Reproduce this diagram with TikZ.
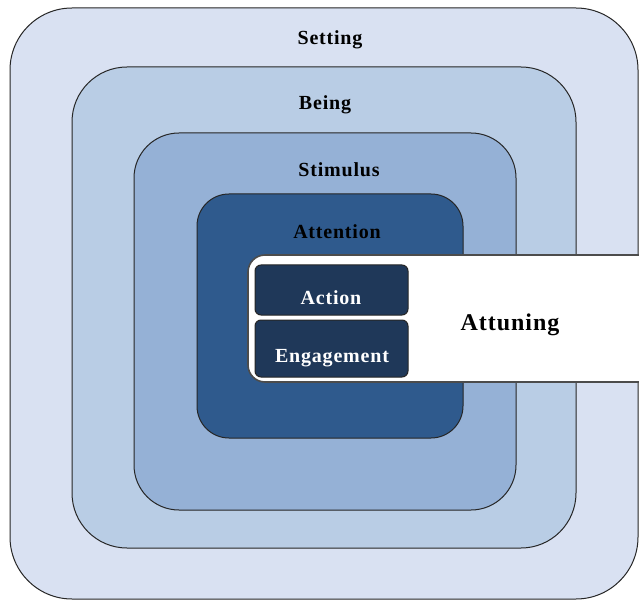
\documentclass[tikz,border=0pt]{standalone}
\usepackage{fontspec}
\setmainfont[LetterSpace=4]{Liberation Serif}
\usetikzlibrary{positioning}

\definecolor{settingfill}{HTML}{D9E1F2}
\definecolor{beingfill}{HTML}{B9CDE5}
\definecolor{stimfill}{HTML}{95B1D6}
\definecolor{attnfill}{HTML}{2F5A8D}
\definecolor{corefill}{HTML}{1F3859}

\tikzset{
  ring/.style={draw=black!85, line width=1pt, inner sep=0pt},
  lbl/.style={anchor=base, inner sep=0pt, font=\bfseries\fontsize{20}{20}\selectfont}
}

\begin{document}
\begin{tikzpicture}[x=1pt,y=-1pt]
  \useasboundingbox (0,0) rectangle (639,601);
  \clip (0,0) rectangle (639,601);

  % nested layers, outermost first
  \path
  (324,303.5) node[ring, fill=settingfill, rounded corners=62pt,
                   minimum width=628pt, minimum height=591pt] (setting) {}
  (324,307.5) node[ring, fill=beingfill, rounded corners=55pt,
                   minimum width=504pt, minimum height=481pt] (being) {}
  (325,321.5) node[ring, fill=stimfill, rounded corners=45pt,
                   minimum width=382pt, minimum height=377pt] (stimulus) {}
  (330,316) node[ring, fill=attnfill, rounded corners=32pt,
                 minimum width=266pt, minimum height=244pt] (attention) {};

  % white band running out to the right
  \path (464,318.5) node[draw=black!70, line width=1.6pt, fill=white,
                         rounded corners=17pt, inner sep=0pt,
                         minimum width=432pt, minimum height=127pt] (attuning) {};

  \path
  (331.5,290) node[ring, fill=corefill, rounded corners=6pt,
                   minimum width=153pt, minimum height=50pt] (action) {}
  (331.5,348.5) node[ring, fill=corefill, rounded corners=6pt,
                     minimum width=153pt, minimum height=57pt] (engagement) {};

  % labels
  \path (330,45) node[lbl] (settingtext) {Setting};
  \path (325,110) node[lbl] (beingtext) {Being};
  \path (339,177) node[lbl] (stimulustext) {Stimulus};
  \path (337,239) node[lbl] (attentiontext) {Attention};
  \path (331,305) node[lbl, white] (actiontext) {Action};
  \path (332,362) node[lbl, white] (engagementtext) {Engagement};
  \path (510,330) node[lbl, font=\bfseries\fontsize{24}{24}\selectfont] (attuningtext) {Attuning};
\end{tikzpicture}
\end{document}
